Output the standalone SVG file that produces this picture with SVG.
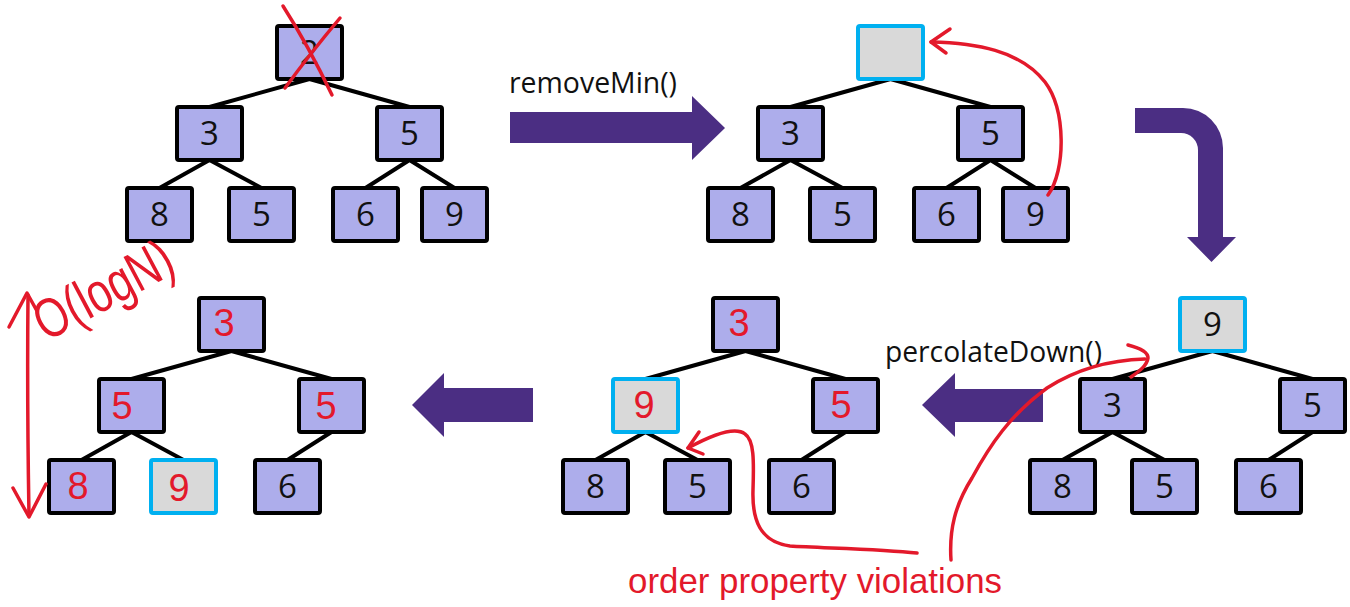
<svg xmlns="http://www.w3.org/2000/svg" width="1350" height="607" viewBox="0 0 1350 607">
  <style>
    .box { fill: #ADADEB; stroke: #000; stroke-width: 4; }
    .hole { fill: #D9D9D9; stroke: #00B0F0; stroke-width: 4; }
    .num { font-family: "Open Sans", "Liberation Sans", sans-serif; font-size: 33px; fill: #111; text-anchor: middle; }
    .ink { font-family: "Liberation Sans", "DejaVu Sans", sans-serif; font-size: 38px; fill: #E3192B; text-anchor: middle; }
    .label { font-family: "Open Sans", "Liberation Sans", sans-serif; font-size: 30px; fill: #111; }
    .edge { stroke: #000; stroke-width: 4; stroke-linecap: butt; fill: none; }
    .big { fill: #4B2E83; }
    .pen { fill: none; stroke: #E3192B; stroke-width: 3.5; stroke-linecap: round; stroke-linejoin: round; }
    .pentext { font-family: "Liberation Sans", "DejaVu Sans", sans-serif; fill: #E3192B; }
  </style>
  <rect width="1350" height="607" fill="#fff"/>

  <!-- tree edges -->
  <g id="connectors">
    <!-- tree 1 -->
    <path class="edge" d="M309.5,79 L209.5,107 M309.5,79 L409.5,107 M209.5,160 L159.5,188 M209.5,160 L261.5,188 M409.5,160 L365.5,188 M409.5,160 L454.5,188"/>
    <!-- tree 2 -->
    <path class="edge" d="M890.5,79 L790.5,107 M890.5,79 L990.5,107 M790.5,160 L740.5,188 M790.5,160 L842.5,188 M990.5,160 L946.5,188 M990.5,160 L1035.5,188"/>
    <!-- tree 3 -->
    <path class="edge" d="M1212.5,351 L1112.5,379 M1212.5,351 L1312.5,379 M1112.5,432 L1062.5,460 M1112.5,432 L1164.5,460 M1312.5,432 L1268.5,460"/>
    <!-- tree 4 -->
    <path class="edge" d="M745.5,351 L645.5,379 M745.5,351 L845.5,379 M645.5,432 L595.5,460 M645.5,432 L697.5,460 M845.5,432 L801.5,460"/>
    <!-- tree 5 -->
    <path class="edge" d="M231.5,351 L131.5,379 M231.5,351 L331.5,379 M131.5,432 L81.5,460 M131.5,432 L183.5,460 M331.5,432 L287.5,460"/>
  </g>

  <!-- tree 1: before removeMin -->
  <g id="t1-root"><rect class="box" x="277" y="26" width="65" height="53" rx="2"/><text class="num" x="309.5" y="64">2</text></g>
  <g id="t1-l"><rect class="box" x="177" y="107" width="65" height="53" rx="2"/><text class="num" x="209.5" y="145">3</text></g>
  <g id="t1-r"><rect class="box" x="377" y="107" width="65" height="53" rx="2"/><text class="num" x="409.5" y="145">5</text></g>
  <g id="t1-ll"><rect class="box" x="127" y="188" width="65" height="53" rx="2"/><text class="num" x="159.5" y="226">8</text></g>
  <g id="t1-lr"><rect class="box" x="229" y="188" width="65" height="53" rx="2"/><text class="num" x="261.5" y="226">5</text></g>
  <g id="t1-rl"><rect class="box" x="333" y="188" width="65" height="53" rx="2"/><text class="num" x="365.5" y="226">6</text></g>
  <g id="t1-rr"><rect class="box" x="422" y="188" width="65" height="53" rx="2"/><text class="num" x="454.5" y="226">9</text></g>

  <!-- tree 2: root emptied -->
  <g id="t2-root"><rect class="hole" x="858" y="26" width="65" height="53" rx="2"/></g>
  <g id="t2-l"><rect class="box" x="758" y="107" width="65" height="53" rx="2"/><text class="num" x="790.5" y="145">3</text></g>
  <g id="t2-r"><rect class="box" x="958" y="107" width="65" height="53" rx="2"/><text class="num" x="990.5" y="145">5</text></g>
  <g id="t2-ll"><rect class="box" x="708" y="188" width="65" height="53" rx="2"/><text class="num" x="740.5" y="226">8</text></g>
  <g id="t2-lr"><rect class="box" x="810" y="188" width="65" height="53" rx="2"/><text class="num" x="842.5" y="226">5</text></g>
  <g id="t2-rl"><rect class="box" x="914" y="188" width="65" height="53" rx="2"/><text class="num" x="946.5" y="226">6</text></g>
  <g id="t2-rr"><rect class="box" x="1003" y="188" width="65" height="53" rx="2"/><text class="num" x="1035.5" y="226">9</text></g>

  <!-- tree 3: last leaf moved to root -->
  <g id="t3-root"><rect class="hole" x="1180" y="298" width="65" height="53" rx="2"/><text class="num" x="1212.5" y="336">9</text></g>
  <g id="t3-l"><rect class="box" x="1080" y="379" width="65" height="53" rx="2"/><text class="num" x="1112.5" y="417">3</text></g>
  <g id="t3-r"><rect class="box" x="1280" y="379" width="65" height="53" rx="2"/><text class="num" x="1312.5" y="417">5</text></g>
  <g id="t3-ll"><rect class="box" x="1030" y="460" width="65" height="53" rx="2"/><text class="num" x="1062.5" y="498">8</text></g>
  <g id="t3-lr"><rect class="box" x="1132" y="460" width="65" height="53" rx="2"/><text class="num" x="1164.5" y="498">5</text></g>
  <g id="t3-rl"><rect class="box" x="1236" y="460" width="65" height="53" rx="2"/><text class="num" x="1268.5" y="498">6</text></g>

  <!-- tree 4: one swap done -->
  <g id="t4-root"><rect class="box" x="713" y="298" width="65" height="53" rx="2"/><text class="ink" x="739" y="336">3</text></g>
  <g id="t4-l"><rect class="hole" x="613" y="379" width="65" height="53" rx="2"/><text class="ink" x="644" y="418">9</text></g>
  <g id="t4-r"><rect class="box" x="813" y="379" width="65" height="53" rx="2"/><text class="ink" x="841" y="418">5</text></g>
  <g id="t4-ll"><rect class="box" x="563" y="460" width="65" height="53" rx="2"/><text class="num" x="595.5" y="498">8</text></g>
  <g id="t4-lr"><rect class="box" x="665" y="460" width="65" height="53" rx="2"/><text class="num" x="697.5" y="498">5</text></g>
  <g id="t4-rl"><rect class="box" x="769" y="460" width="65" height="53" rx="2"/><text class="num" x="801.5" y="498">6</text></g>

  <!-- tree 5: heap restored -->
  <g id="t5-root"><rect class="box" x="199" y="298" width="65" height="53" rx="2"/><text class="ink" x="224" y="336">3</text></g>
  <g id="t5-l"><rect class="box" x="99" y="379" width="65" height="53" rx="2"/><text class="ink" x="122" y="419">5</text></g>
  <g id="t5-r"><rect class="box" x="299" y="379" width="65" height="53" rx="2"/><text class="ink" x="326" y="419">5</text></g>
  <g id="t5-ll"><rect class="box" x="49" y="460" width="65" height="53" rx="2"/><text class="ink" x="78" y="499">8</text></g>
  <g id="t5-lr"><rect class="hole" x="151" y="460" width="65" height="53" rx="2"/><text class="ink" x="179" y="501">9</text></g>
  <g id="t5-rl"><rect class="box" x="255" y="460" width="65" height="53" rx="2"/><text class="num" x="287.5" y="498">6</text></g>

  <!-- step arrows -->
  <g id="step-arrows">
    <path class="big" d="M510,112 H692 V96 L725,128 L692,160 V143 H510 Z"/>
    <path class="big" d="M1135,108 H1183 A40,40 0 0 1 1223,148 V237 H1236 L1211.5,262 L1187,237 H1198 V150 A17,17 0 0 0 1181,133 H1135 Z"/>
    <path class="big" d="M1043,389 H955 V373 L922,405 L955,437 V422 H1043 Z"/>
    <path class="big" d="M533,388 H444 V373 L412,405 L444,437 V422 H533 Z"/>
    <text class="label" x="509" y="93" textLength="168" lengthAdjust="spacingAndGlyphs">removeMin()</text>
    <text class="label" x="885" y="362" textLength="217" lengthAdjust="spacingAndGlyphs">percolateDown()</text>
  </g>

  <!-- pen annotations -->
  <g id="annotations">
    <path class="pen" d="M283,6 Q308,45 332,95"/>
    <path class="pen" d="M340,18 Q309,55 285,88"/>
    <path class="pen" d="M1048,195 C1066,170 1066,110 1045,82 C1020,50 975,43 931,42"/>
    <path class="pen" d="M950,29 L931,42 L946,53"/>
    <path class="pen" d="M28,295 Q27,400 29,516"/>
    <path class="pen" d="M9,327 L27,293 L37,311"/>
    <path class="pen" d="M13,488 L29,517 L46,484"/>
    <text class="pentext" font-size="56" transform="translate(46,342) rotate(-28)" textLength="150" lengthAdjust="spacingAndGlyphs">O(logN)</text>
    <path class="pen" d="M917,553 C880,549 820,548 790,546 C760,542 752,520 753,490 C754,460 754,440 745,434 C735,426 710,436 688,448"/>
    <path class="pen" d="M699,432 L688,448 L703,454"/>
    <path class="pen" d="M951,560 C949,530 955,505 972,478 C990,445 1010,415 1047,388 C1075,370 1110,360 1145,359"/>
    <path class="pen" d="M1128,345 C1140,348 1148,352 1148,358 C1147,366 1138,372 1131,377"/>
    <text class="pentext" font-size="35" x="628" y="593" textLength="374" lengthAdjust="spacingAndGlyphs">order property violations</text>
  </g>
</svg>
